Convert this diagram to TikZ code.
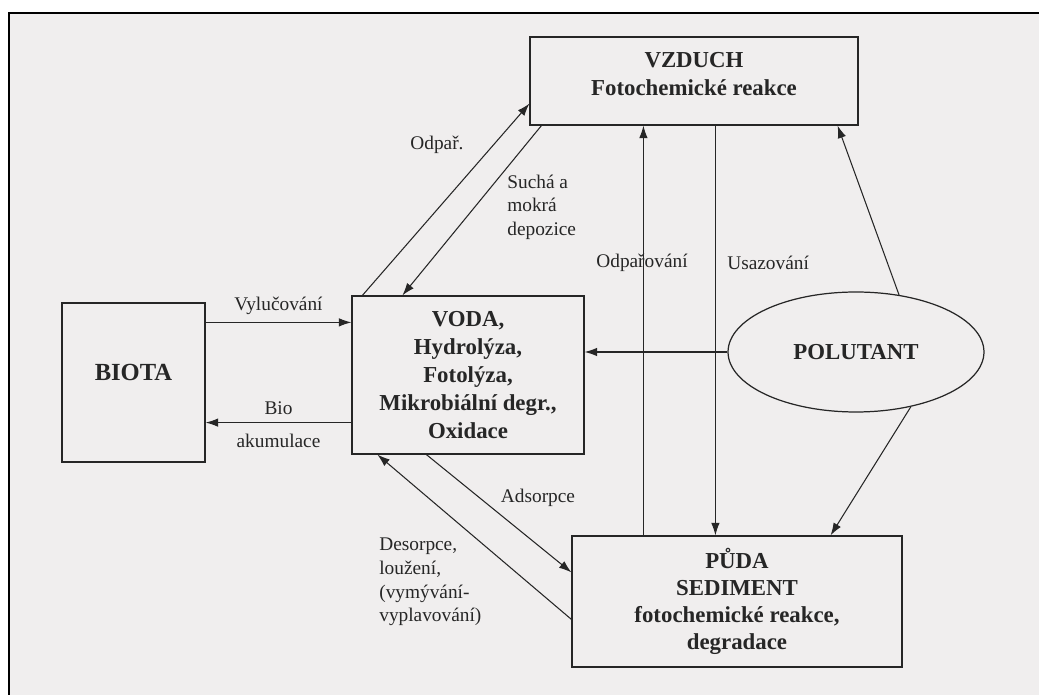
\documentclass[tikz,border=0pt]{standalone}
\usepackage{fontspec}
\setmainfont{Liberation Serif}
\usetikzlibrary{positioning,arrows.meta,shapes.geometric,calc}

\definecolor{scangray}{RGB}{240,238,238}
\definecolor{inkgray}{RGB}{38,38,38}

\begin{document}
\begin{tikzpicture}[x=0.02cm, y=-0.02cm,
  box/.style={draw=inkgray, line width=0.7pt, align=center, inner sep=2pt,
    text=inkgray, font=\fontsize{13}{16}\selectfont\bfseries},
  flow/.style={draw=inkgray, line width=0.6pt,
    -{Latex[length=2.5mm,width=1.7mm]}},
  lbl/.style={text=inkgray, inner sep=0pt, font=\fontsize{11}{13.4}\selectfont}]

  % page
  \useasboundingbox (0,0) rectangle (1039,695);
  \fill[white] (0,0) rectangle (1039,695);
  \fill[scangray] (9,13) rectangle (1039,695);
  \draw[line width=1.4pt] (1039,13) -- (9,13) -- (9,695);

  % compartments
  \node[box, minimum width=6.56cm, minimum height=1.76cm, text depth=0.28cm]
    (vzduch) at (694,81) {VZDUCH\\Fotochemické reakce};
  \node[box, minimum width=2.86cm, minimum height=3.18cm, text depth=0.4cm,
    font=\fontsize{14}{17}\selectfont\bfseries] (biota) at (133.5,382.5) {BIOTA};
  \node[box, minimum width=4.64cm, minimum height=3.16cm] (voda) at (468,375)
    {VODA,\\Hydrolýza,\\Fotolýza,\\Mikrobiální degr.,\\Oxidace};
  \node[box, ellipse, minimum width=5.12cm, minimum height=2.4cm] (polutant)
    at (856,352) {POLUTANT};
  \node[box, minimum width=6.6cm, minimum height=2.62cm,
    font=\fontsize{13}{15.5}\selectfont\bfseries] (puda) at (737,601.5)
    {PŮDA\\SEDIMENT\\fotochemické reakce,\\degradace};

  % biota <-> voda
  \coordinate (vylA) at ($(biota.north east)+(0,20)$);
  \coordinate (bioA) at ($(biota.south east)+(0,-40)$);
  \draw[flow] (vylA) -- (vylA -| voda.west)
    node[lbl, midway, above=4pt] (vylucovani) {Vylučování};
  \draw[flow] (bioA -| voda.west) -- (bioA)
    node[lbl, midway, above=4pt] (bio) {Bio}
    node[lbl, midway, below=6pt] (akumulace) {akumulace};

  % voda <-> vzduch
  \draw[flow] ($(voda.north west)+(11,0)$) -- ($(vzduch.south west)+(0,-22)$);
  \draw[flow] ($(vzduch.south west)+(12,0)$) -- ($(voda.north west)+(51,0)$);
  \node[lbl] (odpar) at (437,145) {Odpař.};
  \node[lbl, align=left, anchor=west] (sucha) at (507,207)
    {Suchá a\\mokrá\\depozice};

  % puda <-> vzduch
  \coordinate (odpA) at ($(puda.north west)+(72,0)$);
  \coordinate (usaA) at ($(vzduch.south west)+(186,0)$);
  \draw[flow] (odpA) -- (odpA |- vzduch.south);
  \draw[flow] (usaA) -- (usaA |- puda.north);
  \node[lbl] (odparovani) at (642,263) {Odpařování};
  \node[lbl, anchor=west] (usazovani) at (727,263) {Usazování};

  % polutant
  \draw[flow] (polutant.53) -- ($(vzduch.south east)+(-21,0)$);
  \draw[flow] (polutant.west) -- (polutant.west -| voda.east);
  \draw[flow] (polutant.-45) -- ($(puda.north east)+(-72,0)$);

  % voda <-> puda
  \draw[flow] ($(voda.south west)+(75,0)$) -- ($(puda.north west)+(0,37)$);
  \draw[flow] ($(puda.north west)+(0,84)$) -- ($(voda.south west)+(26,0)$);
  \node[lbl] (adsorpce) at (538,498) {Adsorpce};
  \node[lbl, align=left, anchor=west] (desorpce) at (379,582)
    {Desorpce,\\loužení,\\(vymývání-\\vyplavování)};

\end{tikzpicture}
\end{document}
